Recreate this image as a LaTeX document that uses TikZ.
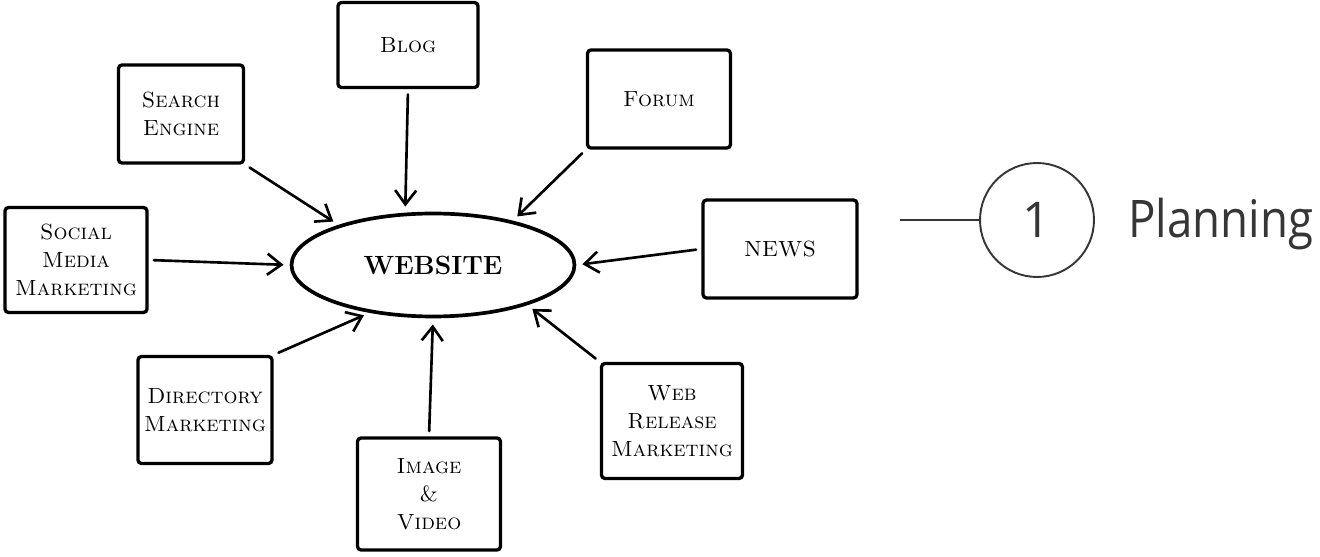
\documentclass[tikz,border=0pt]{standalone}
\usepackage{fontspec}
\newfontfamily\planfont[FakeStretch=0.88]{Open Sans}
\newfontfamily\numfont{Open Sans}
\usetikzlibrary{arrows.meta,shapes.geometric}
\definecolor{ink}{HTML}{363636}
\tikzset{
  sketch/.style={draw, line width=1.9pt, rounded corners=2pt, align=center, inner sep=0pt,
    font=\scshape\fontsize{12.5}{16}\selectfont},
  link/.style={line width=1.5pt, line cap=round, shorten >=3.5pt, shorten <=3pt,
    -{Straight Barb[length=8pt,width=12pt,line width=1.5pt]}}
}

\begin{document}
\begin{tikzpicture}[x=0.02cm,y=-0.02cm]
            \useasboundingbox (0,0) rectangle (1320,557);

            \node[ellipse, draw, line width=2.1pt, minimum width=5.66cm, minimum height=2.06cm,
              inner sep=0pt, font=\bfseries\fontsize{15}{18}\selectfont] (site) at (433,265) {WEBSITE};

            \node[sketch, minimum width=2.8cm,  minimum height=1.7cm]  (blog)      at (408,45)  {Blog};
            \node[sketch, minimum width=2.5cm,  minimum height=1.96cm] (search)    at (181,114) {Search\\Engine};
            \node[sketch, minimum width=2.84cm, minimum height=2.1cm]  (social)    at (76,260)  {Social\\Media\\Marketing};
            \node[sketch, minimum width=2.86cm, minimum height=1.96cm] (forum)     at (659,99)  {Forum};
            \node[sketch, minimum width=3.08cm, minimum height=1.96cm] (news)      at (780,249) {NEWS};
            \node[sketch, minimum width=2.82cm, minimum height=2.3cm]  (release)   at (672,421) {Web\\Release\\Marketing};
            \node[sketch, minimum width=2.86cm, minimum height=2.24cm] (image)     at (429,494) {Image\\\&\\Video};
            \node[sketch, minimum width=2.68cm, minimum height=2.14cm] (directory) at (205,410) {Directory\\Marketing};

            \draw [link] (blog.south) -- (site.118);
            \draw [link] (search.south east) -- (site.157);
            \draw [link] (social.east) -- (site.west);
            \draw [link] (forum.south west) -- (site.29);
            \draw [link] (news.west) -- (site.east);
            \draw [link] (release.north west) -- (site.-23);
            \draw [link] (image.north) -- (site.south);
            \draw [link] (directory.north east) -- (site.217);

            \coordinate (lead) at (900,220);
            \node[circle, draw=ink, line width=1.1pt, minimum size=2.28cm, inner sep=0pt,
              text=ink, font=\numfont\fontsize{28}{30}\selectfont] (num) at (1037,220) {1};
            \node[anchor=base west, inner sep=0pt, text=ink,
              font=\planfont\fontsize{29.5}{30}\selectfont] (plan) at (1128,238) {Planning};
            \draw [ink, line width=1.1pt] (lead) -- (num);
        \end{tikzpicture}
\end{document}
